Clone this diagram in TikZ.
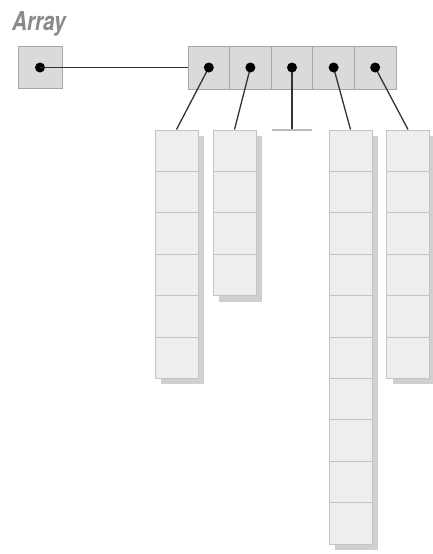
\documentclass[tikz,border=0pt]{standalone}
\usepackage{fontspec}
\newfontfamily\arrfont{TeX Gyre Heros}
\definecolor{topfill}{HTML}{DADADA}
\definecolor{topborder}{HTML}{A8A8A8}
\definecolor{colfill}{HTML}{EEEEEE}
\definecolor{colborder}{HTML}{C4C4C4}
\definecolor{shadowgray}{HTML}{D0D0D0}
\definecolor{linkgray}{HTML}{333333}
\definecolor{titlegray}{HTML}{8A8A8A}
\tikzset{
  topcell/.style={draw=topborder, fill=topfill, line width=1pt, minimum width=41.6pt, minimum height=43pt, inner sep=0pt},
  colcell/.style={draw=colborder, fill=colfill, line width=1pt, minimum width=43pt, minimum height=41.4pt, inner sep=0pt},
  ptr/.style={circle, fill=black, inner sep=0pt, minimum size=10pt},
  link/.style={draw=linkgray, line width=1.3pt},
  nilbar/.style={draw=gray!55, line width=1.6pt},
}
\begin{document}
\begin{tikzpicture}[x=1pt,y=-1pt]
\useasboundingbox (0,0) rectangle (432,554);
% title
\node[anchor=base west, text=titlegray, font=\arrfont\bfseries\itshape\fontsize{26}{26}\selectfont, xscale=0.8, transform shape, inner sep=0pt] (title) at (12,30) {Array};
% columns
\foreach \cx/\n/\k in {176.5/6/1, 234.5/4/2, 350.5/10/4, 408/6/5} {
  \fill[shadowgray] (\cx-21.5+6, 136) rectangle ++(43, \n*41.4);
  \foreach \i in {1,...,\n} {
    \node[colcell] (c\k-\i) at (\cx, 130+41.4*\i-20.7) {};
  }
}
% single variable box
\node[topcell, minimum width=44pt, minimum height=42pt] (a) at (40,67.5) {};
\node[ptr] (d0) at (a.center) {};
% top row
\foreach \i in {1,...,5} {
  \node[topcell] (t\i) at (188+20.8+41.6*\i-41.6, 67.5) {};
}
% links
\draw[link] (d0.center) -- (d0.center -| t1.west);
\foreach \i/\k in {1/1, 2/2, 4/4, 5/5} {
  \draw[link] (t\i.center) -- (c\k-1.north);
}
\coordinate (nil) at (292,130);
\coordinate (nilL) at (272,130);
\coordinate (nilR) at (312,130);
\draw[link] (t3.center) -- (nil);
\draw[nilbar] (nilL) -- (nilR);
\foreach \i in {1,...,5} {
  \node[ptr] (d\i) at (t\i.center) {};
}
\end{tikzpicture}
\end{document}
